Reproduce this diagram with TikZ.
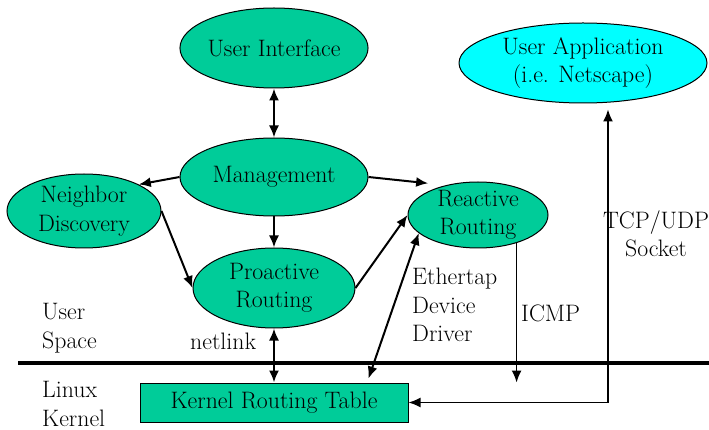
\documentclass[tikz,border=0pt]{standalone}
\usetikzlibrary{shapes.geometric,arrows.meta,calc}
\definecolor{grn}{RGB}{0,204,153}
\definecolor{cyn}{RGB}{0,255,255}
\begin{document}
\begin{tikzpicture}[x=1pt,y=-1pt,
  every node/.style={font=\rmfamily\fontsize{23.8}{28.5}\selectfont},
  ell/.style={ellipse,draw,line width=1pt,fill=grn,inner sep=0pt,align=center},
  conn/.style={line width=2pt,-{Latex[length=12pt,width=10pt]}},
  bconn/.style={line width=2pt,{Latex[length=12pt,width=10pt]}-{Latex[length=12pt,width=10pt]}},
  thinconn/.style={line width=1.5pt,-{Latex[length=12pt,width=10pt]}},
  thinbconn/.style={line width=1.5pt,{Latex[length=12pt,width=10pt]}-{Latex[length=12pt,width=10pt]}},
  lbl/.style={align=left,inner sep=0pt,anchor=west}]
\useasboundingbox (0,0) rectangle (709,430);

\node[ell,minimum width=188pt,minimum height=80pt] (ui) at (274,48) {User Interface};
\node[ell,fill=cyn,minimum width=248pt,minimum height=80pt] (ua) at (583,63) {User Application\\(i.e. Netscape)};
\node[ell,minimum width=188pt,minimum height=78pt] (mgmt) at (274,177) {Management};
\node[ell,inner sep=-1pt,minimum width=154pt,minimum height=74pt] (nd) at (84,211) {Neighbor\\Discovery};
\node[ell,inner sep=-1pt,minimum width=162pt,minimum height=80pt] (pr) at (274,288) {Proactive\\Routing};
\node[ell,inner sep=-3pt,minimum width=140pt,minimum height=66pt] (rr) at (478,215) {Reactive\\Routing};
\node[draw,line width=1pt,fill=grn,minimum width=268pt,minimum height=39pt,inner sep=0pt] (krt) at (274,402.5) {Kernel Routing Table};

\draw[line width=3.5pt] (18,363) -- (709,363);

\draw[bconn] (ui.south) -- (mgmt.north);
\draw[conn] (mgmt.west) -- (nd.north east);
\draw[conn] (mgmt.east) -- ($(rr.north west)+(0,-8)$);
\draw[conn] (mgmt.south) -- (pr.north);
\draw[conn] (nd.east) -- (pr.west);
\draw[conn] (pr.east) -- (rr.west);
\draw[bconn] ($(krt.north east)+(-40,-4)$) -- (rr.197);
\draw[bconn] (pr.south) -- (krt.north);
\draw[thinconn] (rr.-36) -- (rr.-36 |- krt.north);
\draw[thinbconn] (krt.east) -| ($(ua.south)+(25,6)$);

\node[lbl] (us) at (42,328) {User\\Space};
\node[lbl] (lk) at (42,404) {Linux\\Kernel};
\node[lbl] (nl) at (190,341) {netlink};
\node[lbl] (eth) at (412,305) {Ethertap\\Device\\Driver};
\node[lbl] (icmp) at (521,313) {ICMP};
\node[align=center,inner sep=0pt] (tcp) at (656,234) {TCP/UDP\\Socket};
\end{tikzpicture}
\end{document}
